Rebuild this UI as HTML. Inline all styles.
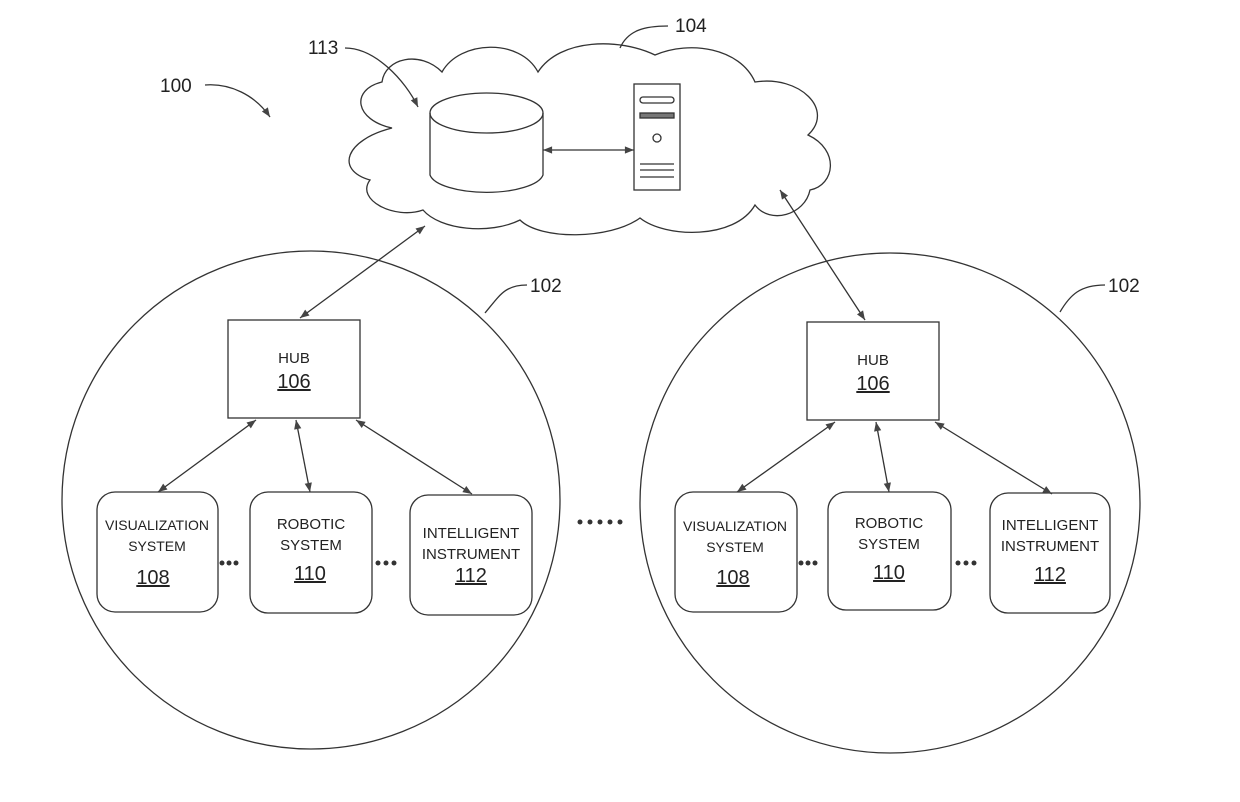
<!DOCTYPE html>
<html><head><style>body{margin:0;background:#fff}svg{display:block}text{font-family:"Liberation Sans",sans-serif;fill:#222}</style></head><body>
<svg width="1240" height="802" viewBox="0 0 1240 802" xmlns="http://www.w3.org/2000/svg">
<defs><marker id="a" viewBox="0 0 10 10" refX="10" refY="5" markerWidth="9" markerHeight="7" orient="auto-start-reverse"><path d="M0,1 L10,5 L0,9 z" fill="#444"/></marker></defs>
<g fill="none" stroke="#333" stroke-width="1.3">
<path d="M392,128 C355,120 350,90 382,82 C385,58 420,50 442,72 C460,40 520,38 538,72 C560,38 620,38 655,55 C690,40 740,48 755,82 C800,75 835,110 808,135 C840,150 835,185 810,190 C805,215 770,225 755,205 C735,240 665,238 640,218 C610,240 540,240 520,220 C490,235 440,230 423,210 C395,220 355,200 370,180 C335,170 345,140 392,128 Z"/>
<path d="M430,113 L430,175 A57,20 0 0 0 543,175 L543,113"/>
<ellipse cx="486.5" cy="113" rx="56.5" ry="20"/>
<rect x="634" y="84" width="46" height="106"/>
<rect x="640" y="97" width="34" height="6" rx="3"/>
<rect x="640" y="113" width="34" height="5" fill="#777"/>
<circle cx="657" cy="138" r="4"/>
<path d="M640,164h34M640,170h34M640,177h34"/>
<circle cx="311" cy="500" r="249"/>
<circle cx="890" cy="503" r="250"/>
<rect x="228" y="320" width="132" height="98"/>
<rect x="807" y="322" width="132" height="98"/>
<rect x="97" y="492" width="121" height="120" rx="18"/>
<rect x="250" y="492" width="122" height="121" rx="18"/>
<rect x="410" y="495" width="122" height="120" rx="18"/>
<rect x="675" y="492" width="122" height="120" rx="18"/>
<rect x="828" y="492" width="123" height="118" rx="18"/>
<rect x="990" y="493" width="120" height="120" rx="18"/>
<g marker-start="url(#a)" marker-end="url(#a)">
<line x1="543" y1="150" x2="634" y2="150"/>
<line x1="300" y1="318" x2="425" y2="226"/>
<line x1="865" y1="320" x2="780" y2="190"/>
<line x1="256" y1="420" x2="158" y2="492"/>
<line x1="296" y1="420" x2="310" y2="492"/>
<line x1="356" y1="420" x2="472" y2="494"/>
<line x1="835" y1="422" x2="737" y2="492"/>
<line x1="876" y1="422" x2="889" y2="492"/>
<line x1="935" y1="422" x2="1052" y2="494"/>
</g>
<path d="M205,85 C230,83 255,95 270,117" marker-end="url(#a)"/>
<path d="M345,48 C375,48 405,80 418,107" marker-end="url(#a)"/>
<path d="M620,48 C628,30 645,26 668,26"/>
<path d="M485,313 C500,295 505,285 527,285"/>
<path d="M1060,312 C1070,295 1080,285 1105,285"/>
</g>
<g fill="#333"><circle cx="222" cy="563" r="2.5"/><circle cx="229" cy="563" r="2.5"/><circle cx="236" cy="563" r="2.5"/>
<circle cx="378" cy="563" r="2.5"/><circle cx="386" cy="563" r="2.5"/><circle cx="394" cy="563" r="2.5"/>
<circle cx="801" cy="563" r="2.5"/><circle cx="808" cy="563" r="2.5"/><circle cx="815" cy="563" r="2.5"/>
<circle cx="958" cy="563" r="2.5"/><circle cx="966" cy="563" r="2.5"/><circle cx="974" cy="563" r="2.5"/>
<circle cx="580" cy="522" r="2.5"/><circle cx="590" cy="522" r="2.5"/><circle cx="600" cy="522" r="2.5"/><circle cx="610" cy="522" r="2.5"/><circle cx="620" cy="522" r="2.5"/></g>
<g font-size="19">
<text x="160" y="92">100</text><text x="308" y="54">113</text><text x="675" y="32">104</text>
<text x="530" y="292">102</text><text x="1108" y="292">102</text></g>
<g text-anchor="middle" font-size="15">
<text x="294" y="363">HUB</text><text x="294" y="388" font-size="20" text-decoration="underline">106</text>
<text x="873" y="365">HUB</text><text x="873" y="390" font-size="20" text-decoration="underline">106</text>
<text x="157" y="530" font-size="14">VISUALIZATION</text><text x="157" y="551" font-size="14">SYSTEM</text><text x="153" y="584" font-size="20" text-decoration="underline">108</text>
<text x="311" y="529">ROBOTIC</text><text x="311" y="550">SYSTEM</text><text x="310" y="580" font-size="20" text-decoration="underline">110</text>
<text x="471" y="538">INTELLIGENT</text><text x="471" y="559">INSTRUMENT</text><text x="471" y="582" font-size="20" text-decoration="underline">112</text>
<text x="735" y="531" font-size="14">VISUALIZATION</text><text x="735" y="552" font-size="14">SYSTEM</text><text x="733" y="584" font-size="20" text-decoration="underline">108</text>
<text x="889" y="528">ROBOTIC</text><text x="889" y="549">SYSTEM</text><text x="889" y="579" font-size="20" text-decoration="underline">110</text>
<text x="1050" y="530">INTELLIGENT</text><text x="1050" y="551">INSTRUMENT</text><text x="1050" y="581" font-size="20" text-decoration="underline">112</text>
</g>
</svg></body></html>
